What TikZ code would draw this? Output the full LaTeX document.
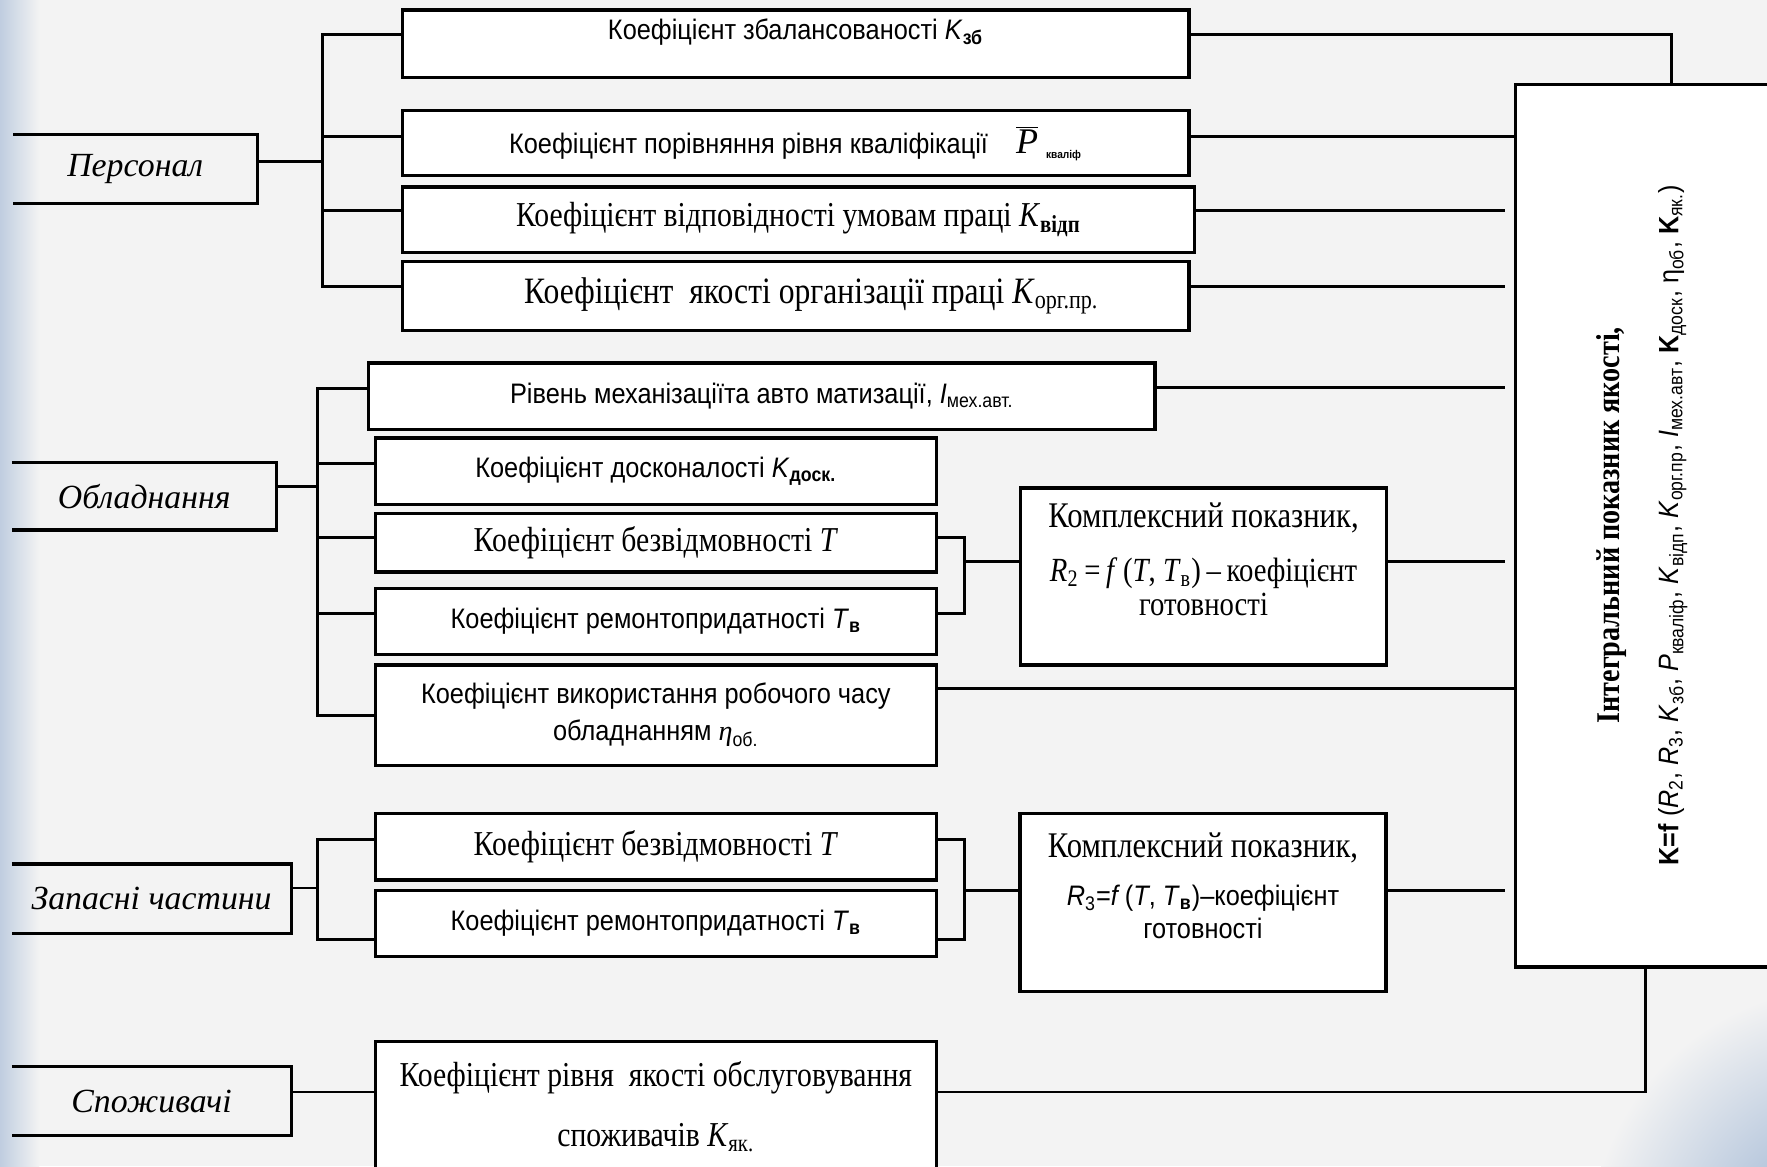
\documentclass[tikz,border=0pt]{standalone}
\usepackage{fontspec}
\newfontfamily\sansf[FakeStretch=0.9]{Liberation Sans}
\newfontfamily\seriff[FakeStretch=0.85]{Liberation Serif}
\newfontfamily\lblf{Liberation Serif}
\definecolor{slideblue}{RGB}{140,168,205}
\definecolor{slidebg}{RGB}{243,243,243}

\tikzset{
  box/.style={draw, line width=1.5pt, fill=white, inner sep=0pt, align=center},
  rim/.style={line width=1.5pt},
  lbl/.style={inner sep=0pt, font=\lblf\itshape\fontsize{15}{18}\selectfont},
  sanst/.style={font=\sansf\fontsize{12.5}{15}\selectfont},
  seriftext/.style={font=\seriff\fontsize{15.5}{17}\selectfont},
  link/.style={line width=1.3pt},
}

\begin{document}
\begin{tikzpicture}[x=0.5pt,y=-0.5pt]
    \clip (0,0) rectangle (1568,1035);
    \fill[slidebg] (0,0) rectangle (1568,1035);
    \shade[left color=slideblue!50!slidebg, right color=slidebg] (0,0) rectangle (35,1035);
    \shade[inner color=slideblue, outer color=slidebg] (1640,1105) circle (230);

    \node[lbl, minimum width=108pt,   minimum height=30pt  ] (pers)  at (120,150)   {Персонал};
    \node[lbl, minimum width=117pt,   minimum height=29.5pt] (obl)   at (128,440.5) {Обладнання};
    \node[lbl, minimum width=123.5pt, minimum height=30.5pt] (zap)   at (134.5,797.5) {Запасні частини};
    \node[lbl, minimum width=123.5pt, minimum height=30pt  ] (spozh) at (134.5,977) {Споживачі};
    \draw[rim] (pers.north west)  -- (pers.north east)  -- (pers.south east)  -- (pers.south west);
    \draw[rim] (obl.north west)   -- (obl.north east)   -- (obl.south east)   -- (obl.south west);
    \draw[rim] (zap.north west)   -- (zap.north east)   -- (zap.south east)   -- (zap.south west);
    \draw[rim] (spozh.north west) -- (spozh.north east) -- (spozh.south east) -- (spozh.south west);

    \node[box, sanst,     minimum width=349pt,   minimum height=30pt  ] (zb)    at (706,39)    {\raisebox{2pt}[0pt][0pt]{Коефіцієнт збалансованості \textit{K}\textsubscript{\textbf{зб}}}};
    \node[box, sanst,     minimum width=349pt,   minimum height=29pt  ] (kv)    at (706,127)   {Коефіцієнт порівняння рівня кваліфікації\quad{\lblf\itshape\fontsize{16}{16}\selectfont$\overline{\mbox{P}}$}\;\textsubscript{\tiny\bfseries кваліф}};
    \node[box, seriftext, minimum width=351.5pt, minimum height=29pt  ] (vidp)  at (708.5,195) {Коефіцієнт відповідності умовам праці \textit{K}\textsubscript{\textbf{відп}}};
    \node[box, seriftext, minimum width=349pt,   minimum height=30.5pt, font=\seriff\fontsize{16.5}{18}\selectfont] (orgpr) at (706,262.5) {\hspace*{14pt}Коефіцієнт\ \ якості організації праці \textit{K}\textsubscript{орг.пр.}};
    \node[box, sanst,     minimum width=349pt,   minimum height=29.5pt] (mech)  at (676,351.5) {Рівень механізаціїта авто матизації, \textit{I}\textsubscript{мех.авт.}};
    \node[box, sanst,     minimum width=249pt,   minimum height=29.5pt] (dosk)  at (582,418)   {Коефіцієнт досконалості \textit{K}\textsubscript{\textbf{доск.}}};
    \node[box, seriftext, minimum width=249pt,   minimum height=26pt  ] (bezv)  at (582,481.5) {Коефіцієнт безвідмовності \textit{T}};
    \node[box, sanst,     minimum width=249pt,   minimum height=29.5pt] (rem)   at (582,551.5) {Коефіцієнт ремонтопридатності \textit{T}\textsubscript{\textbf{в}}};
    \node[box, sanst,     minimum width=249pt,   minimum height=44.5pt] (vyk)   at (582,634.5) {Коефіцієнт використання робочого часу\\[1.5pt] обладнанням {\lblf\itshape η}\textsubscript{об.}};
    \node[box, seriftext, minimum width=249pt,   minimum height=29.5pt] (bezv2) at (582,751.5) {Коефіцієнт безвідмовності \textit{T}};
    \node[box, sanst,     minimum width=249pt,   minimum height=29.5pt] (rem2)  at (582,819.5) {Коефіцієнт ремонтопридатності \textit{T}\textsubscript{\textbf{в}}};
    \node[box, seriftext, minimum width=249pt,   minimum height=58pt  ] (yak)   at (582,982)   {Коефіцієнт рівня\ \ якості обслуговування\\[9.5pt] споживачів \textit{K}\textsubscript{як.}};

    % complex indicators
    \node[box, minimum width=162.5pt, minimum height=78.5pt] (cx1) at (1068,511.5) {};
    \node[box, minimum width=162.5pt, minimum height=79pt  ] (cx2) at (1067.5,801) {};
    \node[align=center, font=\seriff\fontsize{16}{15}\selectfont] (cx1txt) at ([yshift=7.75pt]cx1.center) {Комплексний показник,\\[9pt]
        {\fontsize{15}{15}\selectfont\textit{R}\textsubscript{2}\,=\,\textit{f}\,(\textit{T}, \textit{T}\textsubscript{в})\,–\,коефіцієнт}\\ {\fontsize{15}{15}\selectfont готовності}};
    \node[align=center, font=\seriff\fontsize{16}{14.5}\selectfont] (cx2txt) at ([yshift=7.5pt]cx2.center) {Комплексний показник,\\[7pt]
        {\sansf\fontsize{12.5}{14}\selectfont\textit{R}\textsubscript{3}=\textit{f}\,(\textit{T}, \textit{T}\textsubscript{\textbf{в}})–коефіцієнт}\\ {\sansf\fontsize{12.5}{14}\selectfont готовності}};

    % integral indicator
    \node[box, minimum width=117.5pt, minimum height=391.5pt] (big) at (1462.5,466.5) {};
    \node[rotate=90, align=center] (bigtxt) at (1457,466) {{\seriff\bfseries\fontsize{14.7}{16}\selectfont Інтегральний показник якості,}\\[13pt]
        {\sansf\fontsize{12.4}{14}\selectfont\textbf{K=f} (\textit{R}\textsubscript{2}, \textit{R}\textsubscript{3}, \textit{K}\textsubscript{зб}, \textit{P}\textsubscript{кваліф}, \textit{K}\textsubscript{відп}, \textit{K}\textsubscript{орг.пр}, \textit{I}\textsubscript{мех.авт}, \textbf{K}\textsubscript{доск}, η\textsubscript{об}, \textbf{K}\textsubscript{як.})}};
    \coordinate (bigtop) at (1483,75);
    \coordinate (bigbot) at (1460,858);

    % Personal
    \coordinate (pbus) at (286,143);
    \draw[link] (pers.east |- pbus) -- (pbus);
    \draw[link] ([yshift=4pt]zb.west) -| (pbus) |- ([yshift=4.25pt]orgpr.west);
    \draw[link] ([yshift=3pt]kv.west) -- ([yshift=3pt]kv.west -| pbus);
    \draw[link] ([yshift=4pt]vidp.west) -- ([yshift=4pt]vidp.west -| pbus);
    \draw[link] ([yshift=4pt]zb.east) -| (bigtop);
    \draw[link] ([yshift=3pt]kv.east) -- ([yshift=3pt]kv.east -| big.west);
    \draw[link, shorten >=4pt] ([yshift=4pt]vidp.east) -- ([yshift=4pt]vidp.east -| big.west);
    \draw[link, shorten >=4pt] ([yshift=4.25pt]orgpr.east) -- ([yshift=4.25pt]orgpr.east -| big.west);

    % equipment
    \coordinate (obus) at (282,432);
    \draw[link] (obl.east |- obus) -- (obus);
    \draw[link] ([yshift=3.5pt]mech.west) -| (obus) |- (vyk.west);
    \draw[link] ([yshift=3.5pt]dosk.west) -- ([yshift=3.5pt]dosk.west -| obus);
    \draw[link] ([yshift=2.25pt]bezv.west) -- ([yshift=2.25pt]bezv.west -| obus);
    \draw[link] ([yshift=3.75pt]rem.west) -- ([yshift=3.75pt]rem.west -| obus);
    \draw[link, shorten >=4pt] ([yshift=4pt]mech.east) -- ([yshift=4pt]mech.east -| big.west);
    \coordinate (rbus) at (856,498);
    \draw[link] ([yshift=2.25pt]bezv.east) -| (rbus) |- ([yshift=3.75pt]rem.east);
    \draw[link] (rbus) -- (rbus -| cx1.west);
    \draw[link, shorten >=4pt] (rbus -| cx1.east) -- (rbus -| big.west);
    \draw[link] ([yshift=11.75pt]vyk.east) -- ([yshift=11.75pt]vyk.east -| big.west);

    % spare parts
    \coordinate (zbus) at (282,788);
    \draw[link] (zap.east |- zbus) -- (zbus);
    \draw[link] ([yshift=3.25pt]bezv2.west) -| (zbus) |- ([yshift=-7.25pt]rem2.west);
    \coordinate (sbus) at (856,790);
    \draw[link] ([yshift=3.25pt]bezv2.east) -| (sbus) |- ([yshift=-7.25pt]rem2.east);
    \draw[link] (sbus) -- (sbus -| cx2.west);
    \draw[link, shorten >=4pt] (sbus -| cx2.east) -- (sbus -| big.west);

    % consumers
    \draw[link] ([yshift=4pt]spozh.east) -- ([yshift=4pt]spozh.east -| yak.west);
    \draw[link] ([yshift=4pt]spozh.east -| yak.east) -| (bigbot);
\end{tikzpicture}
\end{document}
